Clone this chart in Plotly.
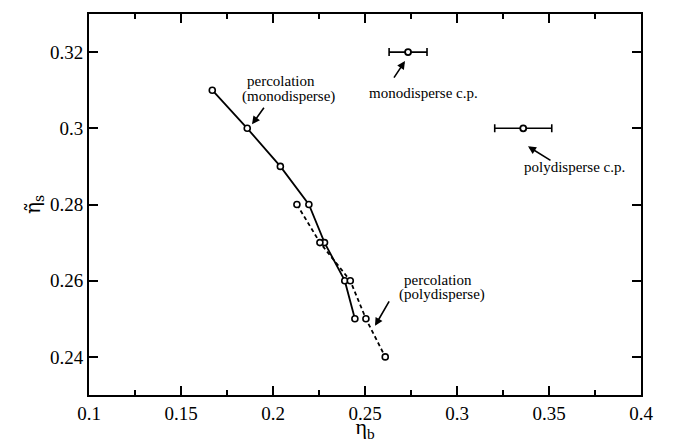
import plotly.graph_objects as go

# Percolation line, monodisperse (solid)
mono_eta_b = [0.167, 0.186, 0.204, 0.2195, 0.228, 0.239, 0.2445]
mono_eta_s = [0.31, 0.30, 0.29, 0.28, 0.27, 0.26, 0.25]

# Percolation line, polydisperse (dashed)
poly_eta_b = [0.213, 0.2255, 0.242, 0.2505, 0.261]
poly_eta_s = [0.28, 0.27, 0.26, 0.25, 0.24]

# Critical points with horizontal error bars
cp_eta_b = [0.2734, 0.336]
cp_eta_s = [0.32, 0.30]
cp_err = [0.0103, 0.0155]

x_ticks = [0.1, 0.15, 0.2, 0.25, 0.3, 0.35, 0.4]
x_ticklabels = ["0.1", "0.15", "0.2", "0.25", "0.3", "0.35", "0.4"]
x_minor = [0.125, 0.175, 0.225, 0.275, 0.325, 0.375]
y_ticks = [0.24, 0.26, 0.28, 0.3, 0.32]
y_ticklabels = ["0.24", "0.26", "0.28", "0.3", "0.32"]

FONT = "Liberation Serif, Times New Roman, Times, serif"

fig = go.Figure()

marker_style = dict(symbol="circle", size=6, color="white",
                    line=dict(color="black", width=1.6))

fig.add_trace(go.Scatter(
    x=mono_eta_b, y=mono_eta_s, mode="lines+markers",
    line=dict(color="black", width=1.8),
    marker=marker_style, showlegend=False))

fig.add_trace(go.Scatter(
    x=poly_eta_b, y=poly_eta_s, mode="lines+markers",
    line=dict(color="black", width=1.8, dash="4px,3px"),
    marker=marker_style, showlegend=False))

fig.add_trace(go.Scatter(
    x=cp_eta_b, y=cp_eta_s, mode="markers",
    error_x=dict(type="data", array=cp_err, color="black", thickness=1.6, width=4),
    marker=dict(symbol="circle", size=6, color="white",
                line=dict(color="black", width=1.8)),
    showlegend=False))

def px2x(p):
    return 0.1 + (p - 89) / 1840.0

def px2y(p):
    return 0.32 - (p - 53) / 3800.0

anns = []
labels = [
    ("percolation", 245, 82),
    ("(monodisperse)", 240, 97),
    ("monodisperse c.p.", 367, 94),
    ("polydisperse c.p.", 522, 168),
    ("percolation", 402, 280),
    ("(polydisperse)", 397, 295),
]
for txt, lx, cy in labels:
    anns.append(dict(x=px2x(lx), y=px2y(cy), xref="x", yref="y", text=txt,
                     showarrow=False, xanchor="left", yanchor="middle",
                     font=dict(family=FONT, size=15, color="black")))
arrows = [
    (252, 125, 13, -18),
    (405, 62, -12, 18),
    (528, 147, 24, 15),
    (375, 326, 15, -26),
]
for hx, hy, ax, ay in arrows:
    anns.append(dict(x=px2x(hx), y=px2y(hy), xref="x", yref="y", text="",
                     showarrow=True, ax=ax, ay=ay, arrowhead=2, arrowsize=1,
                     arrowwidth=1.6, arrowcolor="black", standoff=0))

fig.update_layout(
    width=674, height=442,
    margin=dict(l=89, r=33, t=14, b=47),
    plot_bgcolor="white", paper_bgcolor="white",
    font=dict(family=FONT, size=18, color="black"),
    annotations=anns,
    xaxis=dict(
        range=[0.1, 0.4], tickmode="array",
        tickvals=x_ticks, ticktext=x_ticklabels,
        ticks="inside", ticklen=9, tickwidth=1.6, tickcolor="black",
        minor=dict(tickvals=x_minor, ticks="inside", ticklen=5,
                   tickwidth=1.6, tickcolor="black"),
        showline=True, linecolor="black", linewidth=2, mirror="allticks",
        showgrid=False, zeroline=False, automargin=False,
        tickfont=dict(family=FONT, size=19),
        title=dict(text="η<sub>b</sub>", font=dict(family=FONT, size=22), standoff=0),
    ),
    yaxis=dict(
        range=[0.23, 0.33], tickmode="array",
        tickvals=y_ticks, ticktext=y_ticklabels,
        ticks="inside", ticklen=9, tickwidth=1.6, tickcolor="black",
        showline=True, linecolor="black", linewidth=2, mirror="allticks",
        showgrid=False, zeroline=False, automargin=False,
        tickfont=dict(family=FONT, size=19),
        title=dict(text="η\u0303<sub>s</sub>",
                   font=dict(family="DejaVu Serif, serif", size=20), standoff=4),
    ),
)

fig.write_html("out.html", config={"displayModeBar": False},
               post_script="document.body.style.margin='0';document.body.style.padding='0';")
